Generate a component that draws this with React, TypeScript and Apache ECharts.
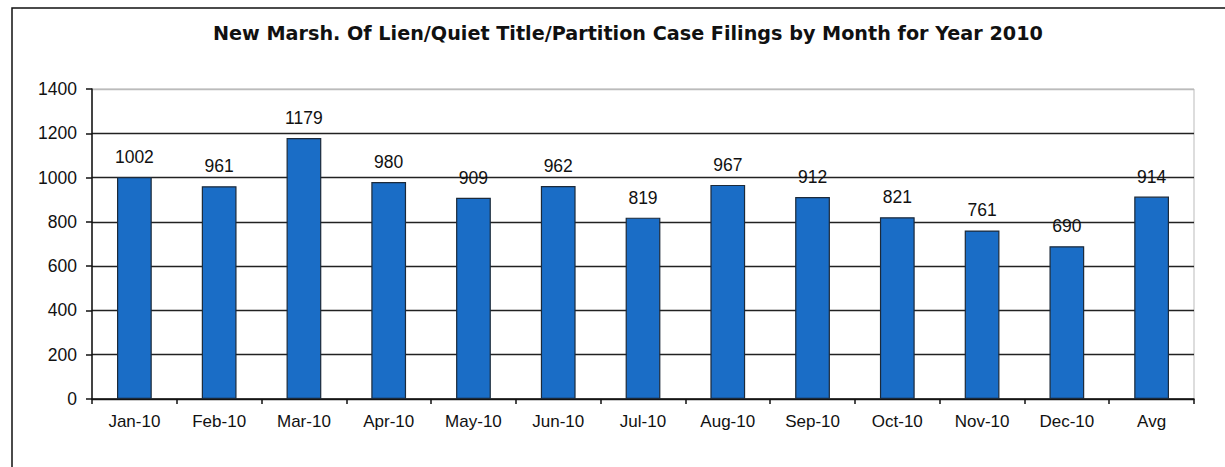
import React, { useEffect, useRef } from "react";
import * as echarts from "echarts";

const titleText = "New Marsh. Of Lien/Quiet Title/Partition Case Filings by Month for Year 2010";
const categories = ["Jan-10", "Feb-10", "Mar-10", "Apr-10", "May-10", "Jun-10", "Jul-10", "Aug-10", "Sep-10", "Oct-10", "Nov-10", "Dec-10", "Avg"];
const filings = [1002, 961, 1179, 980, 909, 962, 819, 967, 912, 821, 761, 690, 914];
const yMin = 0;
const yMax = 1400;
const yStep = 200;

export default function App() {
  const ref = useRef<HTMLDivElement>(null);
  useEffect(() => {
    if (!ref.current) return;
    const chart = echarts.init(ref.current, null, { renderer: "svg" });
    const font = "Liberation Sans, Arial, sans-serif";
    chart.setOption({
      animation: false,
      backgroundColor: "#ffffff",
      textStyle: { fontFamily: font },
      graphic: [
        {
          type: "rect",
          shape: { x: 12, y: 8, width: 1230, height: 480 },
          style: { fill: "none", stroke: "#111", lineWidth: 1.5 },
          z: 100,
        },
        {
          type: "text",
          x: 213,
          y: 33,
          style: {
            text: titleText,
            font: "bold 19.2px DejaVu Sans, sans-serif",
            fill: "#111",
            textAlign: "left",
            textVerticalAlign: "middle",
          },
        },
      ],
      grid: { left: 92, top: 89, right: 31, bottom: 68, show: true, borderColor: "#bbb", borderWidth: 1 },
      xAxis: {
        type: "category",
        data: categories,
        axisLine: { lineStyle: { color: "#111", width: 1.5 } },
        axisTick: { show: true, length: 5, alignWithLabel: false, lineStyle: { color: "#111", width: 1.5 } },
        axisLabel: { color: "#111", fontSize: 17, margin: 14, fontFamily: font },
        splitLine: { show: false },
      },
      yAxis: {
        type: "value",
        min: yMin,
        max: yMax,
        interval: yStep,
        axisLine: { show: true, lineStyle: { color: "#111", width: 1.5 } },
        axisTick: { show: true, length: 6, lineStyle: { color: "#111", width: 1.5 } },
        axisLabel: { color: "#111", fontSize: 17.5, margin: 15, fontFamily: font, formatter: (v: number) => String(v) },
        splitLine: {
          show: true,
          lineStyle: {
            color: ["#222", "#222", "#222", "#222", "#222", "#222", "#222", "#bbb"],
            width: 1.3,
          },
        },
      },
      series: [
        {
          type: "bar",
          data: filings,
          barWidth: "41%",
          itemStyle: { color: "#1a6dc6", borderColor: "#1c2a3a", borderWidth: 1.2 },
          label: {
            show: true,
            position: "top",
            distance: 11,
            color: "#111",
            fontSize: 17.5,
            fontFamily: font,
          },
        },
      ],
    });
    return () => chart.dispose();
  }, []);
  return (
    <div
      ref={ref}
      style={{ position: "fixed", left: 0, top: 0, width: 1225, height: 467, background: "#fff" }}
    />
  );
}
